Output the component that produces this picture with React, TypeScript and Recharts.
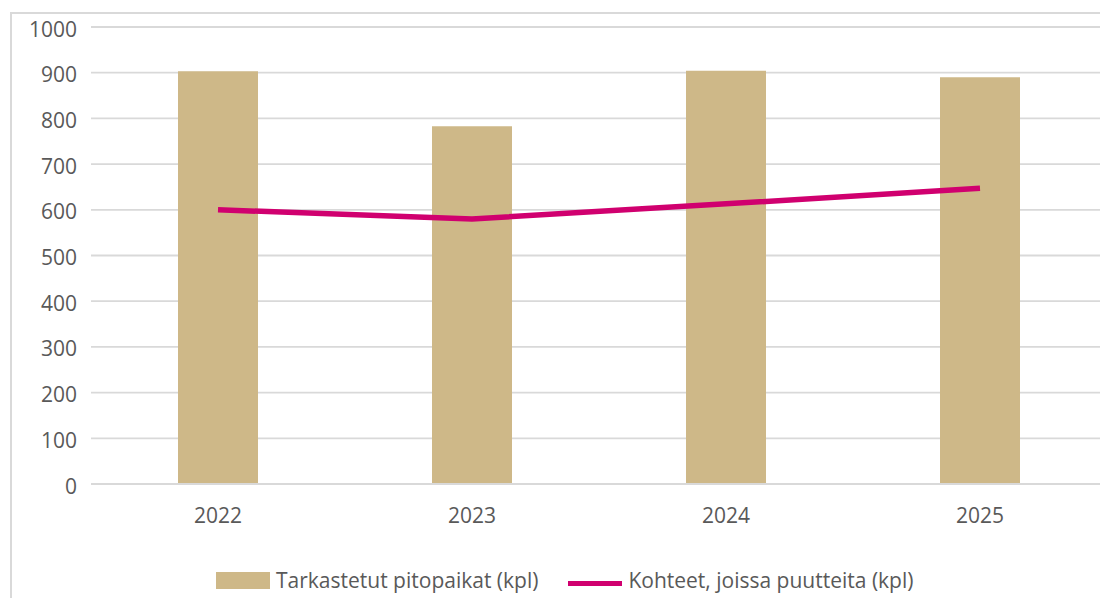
import React from "react";
import { ComposedChart, Bar, Line, XAxis, YAxis, CartesianGrid, Legend } from "recharts";

const years = ["2022", "2023", "2024", "2025"];
const inspected = [903, 783, 904, 890];
const withDefects = [600, 580, 613, 647];
const yTicks = [0, 100, 200, 300, 400, 500, 600, 700, 800, 900, 1000];

const seriesNames = {
  inspected: "Tarkastetut pitopaikat (kpl)",
  withDefects: "Kohteet, joissa puutteita (kpl)",
};

const data = years.map((year, i) => ({
  year,
  inspected: inspected[i],
  withDefects: withDefects[i],
}));

const FONT = "'Open Sans', 'Liberation Sans', sans-serif";
const TEXT = "#595959";
const GRID = "#D9D9D9";
const BAR = "#CEB888";
const LINE = "#D0006F";

const YTick = (props: any) => {
  const { x, y, payload } = props;
  return (
    <text x={x} y={y} dy={9.5} textAnchor="end" fill={TEXT} fontFamily={FONT} fontSize={21}>
      {payload.value}
    </text>
  );
};

const XTick = (props: any) => {
  const { x, y, payload } = props;
  return (
    <text x={x} y={y} dy={31} textAnchor="middle" fill={TEXT} fontFamily={FONT} fontSize={21}>
      {payload.value}
    </text>
  );
};

const LegendContent = () => (
  <div style={{ display: "flex", alignItems: "center", fontFamily: FONT, fontSize: 21, color: TEXT, whiteSpace: "nowrap" }}>
    <span style={{ display: "inline-block", width: 54, height: 17, background: BAR, marginRight: 6 }} />
    <span>{seriesNames.inspected}</span>
    <span style={{ display: "inline-block", width: 54, height: 5, background: LINE, marginLeft: 30, marginRight: 6, transform: "translateY(3px)" }} />
    <span>{seriesNames.withDefects}</span>
  </div>
);

export default function App() {
  return (
    <div style={{ position: "relative", width: 1108, height: 606, margin: -8, overflow: "hidden", background: "#fff" }}>
      <div style={{ position: "absolute", left: 10, top: 12, width: 1200, height: 700, border: `2px solid ${GRID}` }} />
      <div style={{ position: "absolute", left: 0, top: 0 }}>
        <ComposedChart width={1108} height={606} data={data} margin={{ top: 27, right: 1, left: 0, bottom: 92 }}>
          <CartesianGrid vertical={false} stroke={GRID} strokeWidth={1.8} />
          <XAxis
            dataKey="year"
            height={30}
            axisLine={{ stroke: GRID, strokeWidth: 1.8 }}
            tickLine={false}
            tick={<XTick />}
            interval={0}
          />
          <YAxis
            width={91}
            domain={[0, 1000]}
            ticks={yTicks}
            axisLine={false}
            tickLine={false}
            tickSize={6}
            tickMargin={8}
            tick={<YTick />}
            interval={0}
          />
          <Bar dataKey="inspected" name={seriesNames.inspected} fill={BAR} barSize={80} isAnimationActive={false} />
          <Line
            dataKey="withDefects"
            name={seriesNames.withDefects}
            type="linear"
            stroke={LINE}
            strokeWidth={5.5}
            dot={false}
            activeDot={false}
            isAnimationActive={false}
          />
          <Legend
            layout="horizontal"
            verticalAlign="middle"
            align="center"
            content={<LegendContent />}
            wrapperStyle={{ left: 216, top: 566, width: "auto", height: "auto" }}
          />
        </ComposedChart>
      </div>
    </div>
  );
}
